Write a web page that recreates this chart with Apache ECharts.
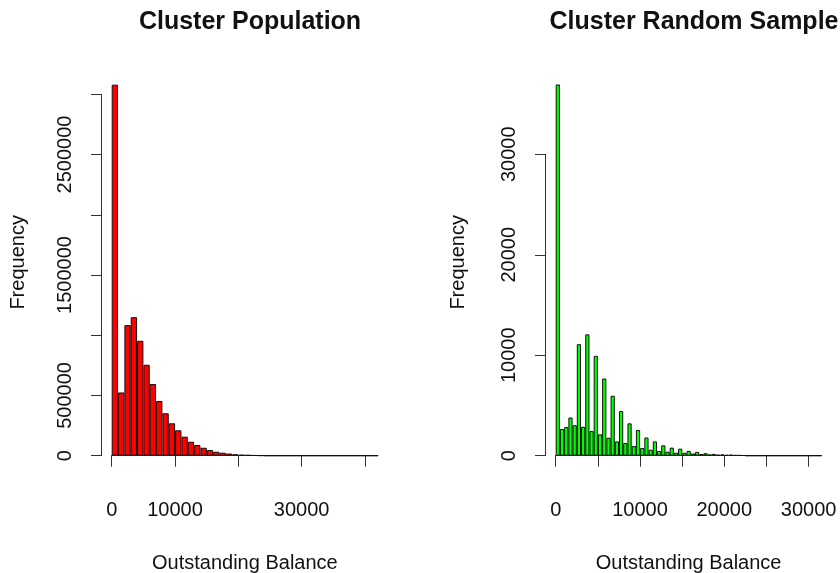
<!DOCTYPE html>
<html><head><meta charset="utf-8">
<script src="https://cdn.jsdelivr.net/npm/echarts@6/dist/echarts.min.js"></script>
<style>html,body{margin:0;padding:0;background:#fff}#c{width:840px;height:573px}</style>
</head><body><div id="c"></div>
<script>
// ---- data ----
const popTitle = 'Cluster Population';
const sampleTitle = 'Cluster Random Sample';
const xName = 'Outstanding Balance';
const yName = 'Frequency';

const popBinWidth = 1000;   // bins 0..42000
const popCounts = [3080000, 525000, 1084000, 1150000, 954000, 755000, 595000, 454000, 352000, 269000,
  211000, 158000, 116000, 89000, 66000, 47000, 33000, 25000, 18000, 12000,
  8000, 6000, 4000, 2000, 0, 0, 0, 0, 0, 0,
  0, 0, 0, 0, 0, 0, 0, 0, 0, 0, 0, 0];

const sampleBinWidth = 500; // bins 0..31500
const sampleCounts = [36950, 2660, 2850, 3800, 3030, 11100, 2880, 12080, 2450, 9940,
  2130, 7680, 1790, 5970, 1420, 4450, 1260, 3220, 960, 2560,
  760, 1810, 600, 1420, 470, 1030, 400, 800, 300, 700,
  280, 480, 220, 380, 170, 250, 130, 180, 100, 130,
  80, 100, 60, 60, 40, 0, 0, 0, 0, 0,
  0, 0, 0, 0, 0, 0, 0, 0, 0, 0, 0, 0, 0];

const popXLabels = ['0', '10000', '30000'];
const popYLabels = ['0', '500000', '1500000', '2500000'];
const sampleXLabels = ['0', '10000', '20000', '30000'];
const sampleYLabels = ['0', '10000', '20000', '30000'];

// ---- build ----
const popCats = popCounts.map((_, i) => (i * popBinWidth) + '-' + ((i + 1) * popBinWidth));
const sampleCats = sampleCounts.map((_, i) => (i * sampleBinWidth) + '-' + ((i + 1) * sampleBinWidth));

const FONT = "'Liberation Sans', Arial, sans-serif";
const AX = '#333';
const txt = { color: '#111', fontFamily: FONT, fontSize: 20 };
const only = list => v => list.indexOf(String(v)) >= 0 ? String(v) : '';

function barX(grid, cats) {
  return { type: 'category', gridIndex: grid, data: cats, boundaryGap: true,
    axisLine: { show: true, lineStyle: { color: '#666', width: 1 } },
    axisTick: { show: false }, axisLabel: { show: false }, splitLine: { show: false },
    name: xName, nameLocation: 'middle', nameGap: 98, nameTextStyle: txt };
}
function showX(grid, max, interval, labels) {
  return { type: 'value', gridIndex: grid, min: 0, max: max, interval: interval, offset: 16,
    axisLine: { show: true, lineStyle: { color: AX, width: 1 } },
    axisTick: { show: true, length: 11, lineStyle: { color: AX, width: 1 } },
    axisLabel: Object.assign({ margin: 29, formatter: only(labels), showMinLabel: true, showMaxLabel: true }, txt),
    splitLine: { show: false } };
}
function showY(grid, max, interval, labels) {
  return { type: 'value', gridIndex: grid, min: 0, max: max, interval: interval, offset: 10.7,
    axisLine: { show: true, lineStyle: { color: AX, width: 1 } },
    axisTick: { show: true, length: 10, lineStyle: { color: AX, width: 1 } },
    axisLabel: Object.assign({ margin: 26, rotate: 90, formatter: only(labels), showMinLabel: true, showMaxLabel: true }, txt),
    splitLine: { show: false } };
}
function nameY(grid, gap) {
  return { type: 'value', gridIndex: grid, min: 0, max: 1,
    axisLine: { show: false }, axisTick: { show: false }, axisLabel: { show: false }, splitLine: { show: false },
    name: yName, nameLocation: 'middle', nameGap: gap, nameTextStyle: txt };
}

const option = {
  backgroundColor: '#fff',
  animation: false,
  title: [
    { text: popTitle, left: 245, top: 5, textAlign: 'center',
      textStyle: { fontFamily: FONT, fontSize: 25, fontWeight: 'bold', color: '#111' } },
    { text: sampleTitle, left: 689, top: 5, textAlign: 'center',
      textStyle: { fontFamily: FONT, fontSize: 25, fontWeight: 'bold', color: '#111' } }
  ],
  grid: [
    { left: 111.7, top: 94.3, width: 266.3, height: 361.4, outerBoundsMode: 'none', containLabel: false },
    { left: 111.7, top: 69, width: 253.3, height: 386.7, outerBoundsMode: 'none', containLabel: false },
    { left: 555.7, top: 154.3, width: 265.9, height: 301.4, outerBoundsMode: 'none', containLabel: false },
    { left: 555.7, top: 69, width: 252.9, height: 386.7, outerBoundsMode: 'none', containLabel: false }
  ],
  xAxis: [
    barX(0, popCats),
    showX(1, 40000, 10000, popXLabels),
    barX(2, sampleCats),
    showX(3, 30000, 5000, sampleXLabels)
  ],
  yAxis: [
    showY(0, 3000000, 500000, popYLabels),
    nameY(1, 83),
    showY(2, 30000, 10000, sampleYLabels),
    nameY(3, 87)
  ],
  series: [
    { type: 'bar', xAxisIndex: 0, yAxisIndex: 0, data: popCounts, barWidth: '100%', barGap: '0%', clip: false,
      itemStyle: { color: '#FF0000', borderColor: '#111', borderWidth: 1 } },
    { type: 'bar', xAxisIndex: 2, yAxisIndex: 2, data: sampleCounts, barWidth: '100%', barGap: '0%', clip: false,
      itemStyle: { color: '#00FF00', borderColor: '#111', borderWidth: 1 } }
  ]
};
const chart = echarts.init(document.getElementById('c'), null, { renderer: 'canvas' });
chart.setOption(option);
</script></body></html>
